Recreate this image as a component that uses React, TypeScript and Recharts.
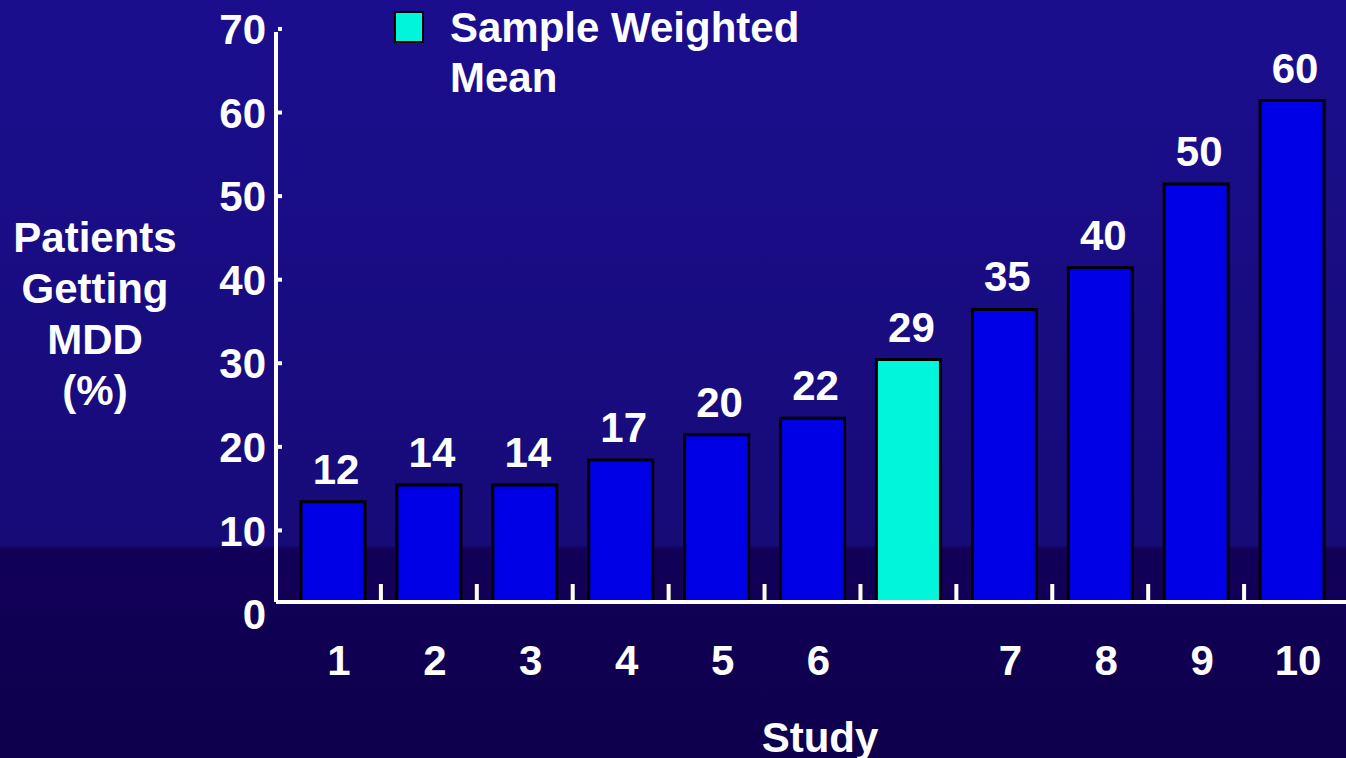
import React from 'react';
import { BarChart, Bar, XAxis, YAxis, Cell, LabelList, Legend } from 'recharts';

const studies = ['1', '2', '3', '4', '5', '6', '', '7', '8', '9', '10'];
const patientsMdd = [12, 14, 14, 17, 20, 22, 29, 35, 40, 50, 60];
const isWeightedMean = [false, false, false, false, false, false, true, false, false, false, false];
const yTicks = [0, 10, 20, 30, 40, 50, 60, 70];
const yTitle = ['Patients', 'Getting', 'MDD', '(%)'];
const legendLines = ['Sample Weighted', 'Mean'];

const data = studies.map((study, i) => ({ study, value: patientsMdd[i], mean: isWeightedMean[i] }));

const FONT = '"Liberation Sans", Arial, Helvetica, sans-serif';
const STUDY_BLUE = '#0000e6';
const MEAN_AQUA = '#00f5da';
const AXIS_X = 276; // y axis line (= yaxis width)
const AXIS_Y = 602; // x axis line (= chart height - xaxis height)
const LABEL_SHIFT = 12; // tick labels sit a bit below their gridline in the original slide

const textStyle = { fill: '#fff', fontSize: 42, fontWeight: 700, fontFamily: FONT } as const;

const YTick = (props: any) => {
  const { y, payload } = props;
  const cy = y + LABEL_SHIFT;
  return (
    <g>
      {payload.value !== 0 && (
        <line x1={AXIS_X + 2} x2={AXIS_X + 6} y1={cy} y2={cy} stroke="#fff" strokeWidth={4} />
      )}
      <text x={266} y={cy} dy="0.36em" textAnchor="end" {...textStyle}>
        {payload.value}
      </text>
    </g>
  );
};

const XTick = (props: any) => {
  const { x, payload, index } = props;
  const half = payload.offset > 0 ? payload.offset : (1340 - 285) / studies.length / 2;
  return (
    <g>
      {index > 0 && (
        <line x1={x - half} x2={x - half} y1={AXIS_Y - 18} y2={AXIS_Y} stroke="#fff" strokeWidth={4} />
      )}
      <text x={x + 6} y={675} textAnchor="middle" {...textStyle}>
        {payload.value}
      </text>
    </g>
  );
};

const YTitle = () => (
  <text x={95} y={252} textAnchor="middle" {...textStyle}>
    {yTitle.map((line, i) => (
      <tspan key={line} x={95} dy={i === 0 ? 0 : 51}>
        {line}
      </tspan>
    ))}
  </text>
);

const XTitle = () => (
  <text x={820} y={752} textAnchor="middle" {...textStyle}>
    Study
  </text>
);

const MeanLegend = () => (
  <div style={{ display: 'flex', alignItems: 'flex-start', fontFamily: FONT }}>
    <div
      style={{
        width: 26,
        height: 28,
        marginTop: 8,
        background: MEAN_AQUA,
        border: '2px solid #000',
        flex: 'none',
      }}
    />
    <div style={{ marginLeft: 26, color: '#fff', fontSize: 42, fontWeight: 700, lineHeight: '50px', whiteSpace: 'nowrap' }}>
      {legendLines.map((line) => (
        <div key={line}>{line}</div>
      ))}
    </div>
  </div>
);

export default function App() {
  return (
    <div
      style={{
        position: 'absolute',
        left: 0,
        top: 0,
        width: 1346,
        height: 758,
        overflow: 'hidden',
        background:
          'linear-gradient(to bottom, #1b0e8e 0px, #170b78 545px, #120058 549px, #0e004c 758px)',
      }}
    >
      <BarChart width={1346} height={758} data={data} margin={{ top: 32, right: 0, bottom: 0, left: 0 }}>
        <XAxis
          dataKey="study"
          height={758 - AXIS_Y}
          padding={{ left: 9, right: 6 }}
          interval={0}
          axisLine={{ stroke: '#fff', strokeWidth: 4 }}
          tickLine={false}
          tick={<XTick />}
          label={<XTitle />}
        />
        <YAxis
          width={AXIS_X}
          domain={[0, 68.2]}
          allowDataOverflow
          ticks={yTicks}
          interval={0}
          axisLine={{ stroke: '#fff', strokeWidth: 4 }}
          tickLine={false}
          tick={<YTick />}
          label={<YTitle />}
        />
        <Legend
          layout="vertical"
          align="center"
          verticalAlign="middle"
          wrapperStyle={{ top: 3, left: 394, width: 'auto', height: 'auto' }}
          content={<MeanLegend />}
        />
        <Bar dataKey="value" barSize={64} stroke="#000" strokeWidth={3} isAnimationActive={false}>
          {data.map((d) => (
            <Cell key={d.study || 'mean'} fill={d.mean ? MEAN_AQUA : STUDY_BLUE} />
          ))}
          <LabelList dataKey="value" position="top" offset={18} dx={3} {...textStyle} />
        </Bar>
      </BarChart>
    </div>
  );
}
